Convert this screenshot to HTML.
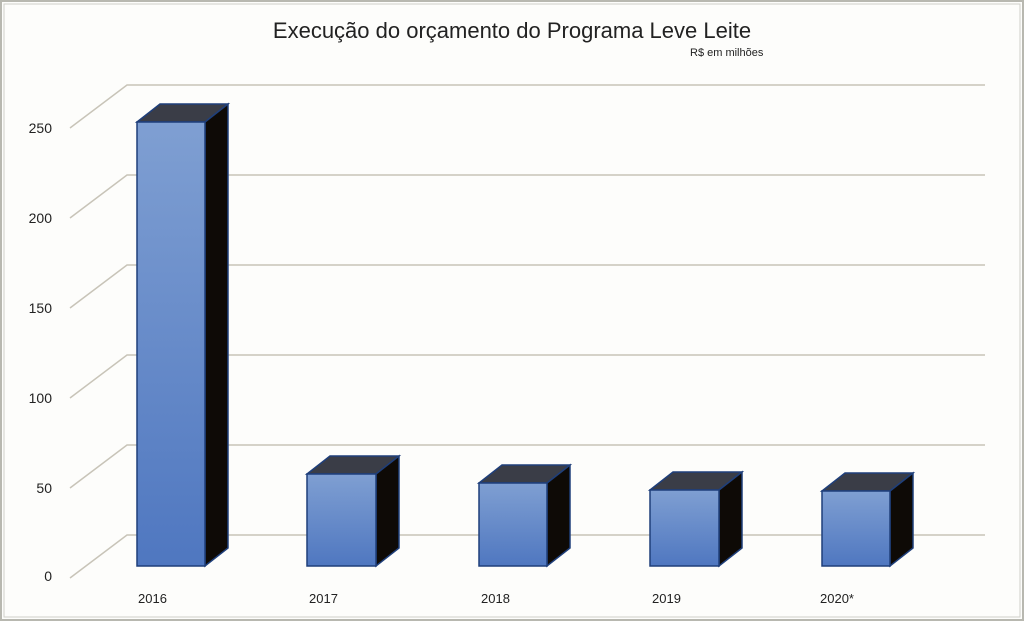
<!DOCTYPE html>
<html><head><meta charset="utf-8"><style>
body{margin:0;background:#fff;}
svg{display:block;font-family:"Liberation Sans",sans-serif;}
</style></head><body>
<svg width="1024" height="621" viewBox="0 0 1024 621">
<defs>
<linearGradient id="g" x1="0" y1="0" x2="0" y2="1">
<stop offset="0" stop-color="#7f9fd2"/><stop offset="1" stop-color="#4f77c0"/>
</linearGradient>
</defs>
<rect x="0" y="0" width="1024" height="621" fill="#fdfdfb"/>
<rect x="1" y="1" width="1022" height="619" fill="none" stroke="#b8b8b0" stroke-width="2"/>
<rect x="4" y="4" width="1016" height="613" fill="none" stroke="#d0d0c8" stroke-width="1"/>
<text x="512" y="38" font-size="22" text-anchor="middle" fill="#222">Execução do orçamento do Programa Leve Leite</text>
<text x="690" y="56" font-size="11" fill="#222">R$ em milhões</text>
<g stroke="#c8c4b8" stroke-width="1.5" fill="none">
<polyline points="70,128 127,85 985,85"/>
<polyline points="70,218 127,175 985,175"/>
<polyline points="70,308 127,265 985,265"/>
<polyline points="70,398 127,355 985,355"/>
<polyline points="70,488 127,445 985,445"/>
<polyline points="70,578 127,535 985,535"/>
</g>
<g font-size="14" fill="#222" text-anchor="end">
<text x="52" y="133">250</text><text x="52" y="223">200</text><text x="52" y="313">150</text>
<text x="52" y="403">100</text><text x="52" y="493">50</text><text x="52" y="581">0</text>
</g>
<g stroke="#1f3f7a" stroke-width="1.5">
<g><polygon points="137,122 160,104 228,104 205,122" fill="#3a3d47"/><polygon points="205,122 228,104 228,548 205,566" fill="#0e0a06"/><rect x="137" y="122" width="68" height="444" fill="url(#g)"/></g>
<g><polygon points="307,474 330,456 399,456 376,474" fill="#3a3d47"/><polygon points="376,474 399,456 399,548 376,566" fill="#0e0a06"/><rect x="307" y="474" width="69" height="92" fill="url(#g)"/></g>
<g><polygon points="479,483 502,465 570,465 547,483" fill="#3a3d47"/><polygon points="547,483 570,465 570,548 547,566" fill="#0e0a06"/><rect x="479" y="483" width="68" height="83" fill="url(#g)"/></g>
<g><polygon points="650,490 673,472 742,472 719,490" fill="#3a3d47"/><polygon points="719,490 742,472 742,548 719,566" fill="#0e0a06"/><rect x="650" y="490" width="69" height="76" fill="url(#g)"/></g>
<g><polygon points="822,491 845,473 913,473 890,491" fill="#3a3d47"/><polygon points="890,491 913,473 913,548 890,566" fill="#0e0a06"/><rect x="822" y="491" width="68" height="75" fill="url(#g)"/></g>
</g>
<g font-size="13" fill="#222">
<text x="138" y="603">2016</text><text x="309" y="603">2017</text><text x="481" y="603">2018</text>
<text x="652" y="603">2019</text><text x="820" y="603">2020*</text>
</g>
</svg>
</body></html>
